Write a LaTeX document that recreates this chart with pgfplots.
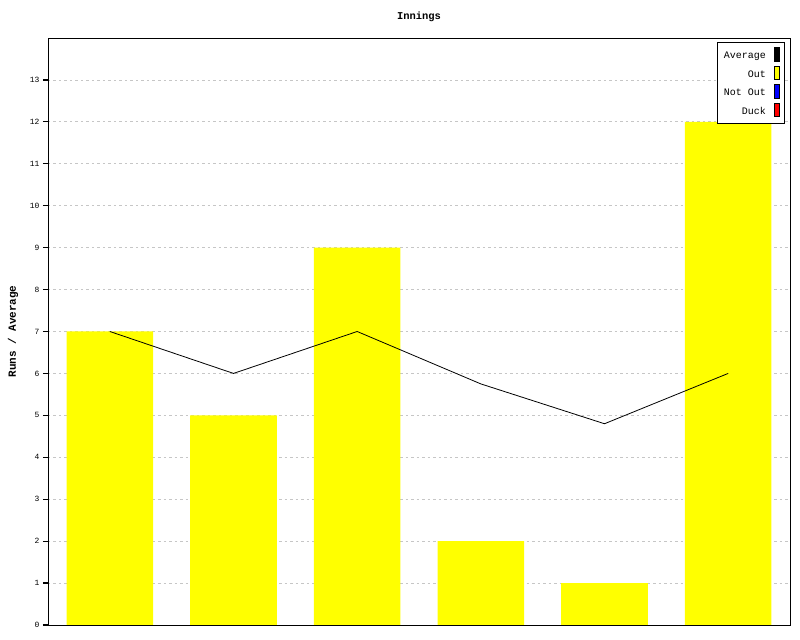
\documentclass[border=0pt]{standalone}
\usepackage{fontspec}
\setmainfont{Liberation Mono}
\usepackage{pgfplots}
\pgfplotsset{compat=1.18}
\definecolor{pyellow}{RGB}{255,255,0}
\definecolor{pblue}{RGB}{0,0,255}
\definecolor{pred}{RGB}{255,0,0}
\begin{document}
\begin{tikzpicture}
\begin{axis}[
  scale only axis, width=742bp, height=587bp,
  xmin=0.5, xmax=6.5, ymin=0, ymax=14,
  xtick=\empty,
  ytick={0,1,...,13},
  ytick pos=left,
  tick align=outside,
  major tick length=5bp,
  every tick/.style={black, line width=1.2bp, solid},
  ymajorgrids, grid style={gray!45, line width=0.8bp, dash pattern=on 2.5bp off 3bp},
  axis line style={line width=0.9bp},
  tick label style={font=\fontsize{8}{9}\selectfont},
  /pgf/number format/assume math mode=true,
  every axis title shift=0pt,
  title={Innings},
  title style={font=\fontsize{10.5}{12}\selectfont\bfseries, at={(axis description cs:0.5,1.0358)}, anchor=center},
  ylabel={Runs / Average},
  ylabel style={font=\fontsize{11}{12}\selectfont\bfseries, at={(axis description cs:-0.0472,0.5)}, anchor=center},
  legend style={at={(rel axis cs:1,1)}, xshift=-5bp, yshift=-4bp, anchor=north east, draw=black, line width=0.8bp,
    font=\fontsize{10}{11}\selectfont, cells={anchor=east}, row sep=3.5bp, inner xsep=5bp, inner ysep=5bp},
  legend plot pos=right,
]
\addplot[ybar, bar width=0.7, bar shift=0pt, fill=pyellow, draw=none, forget plot]
  coordinates {(1,7) (2,5) (3,9) (4,2) (5,1) (6,12)};
\addplot[black, line width=0.8bp, sharp plot, no marks, forget plot]
  coordinates {(1,7) (2,6) (3,7) (4,5.75) (5,4.8) (6,6)};
\addlegendimage{legend image code/.code={\path (0bp,0bp); \draw[fill=black, draw=black, line width=0.8bp] (6bp,-5bp) rectangle (11bp,8.5bp);}}
\addlegendentry{Average}
\addlegendimage{legend image code/.code={\path (0bp,0bp); \draw[fill=pyellow, draw=black, line width=0.8bp] (6bp,-5bp) rectangle (11bp,8.5bp);}}
\addlegendentry{Out}
\addlegendimage{legend image code/.code={\path (0bp,0bp); \draw[fill=pblue, draw=black, line width=0.8bp] (6bp,-5bp) rectangle (11bp,8.5bp);}}
\addlegendentry{Not Out}
\addlegendimage{legend image code/.code={\path (0bp,0bp); \draw[fill=pred, draw=black, line width=0.8bp] (6bp,-5bp) rectangle (11bp,8.5bp);}}
\addlegendentry{Duck}
\coordinate (ll) at (rel axis cs:0,0);
\coordinate (ur) at (rel axis cs:1,1);
\end{axis}
\path (ll) ++(-48bp,-15bp) coordinate (bbl);
\path (ur) ++(10bp,38bp) coordinate (bur);
\path[use as bounding box] (bbl) rectangle (bur);
\end{tikzpicture}
\end{document}
